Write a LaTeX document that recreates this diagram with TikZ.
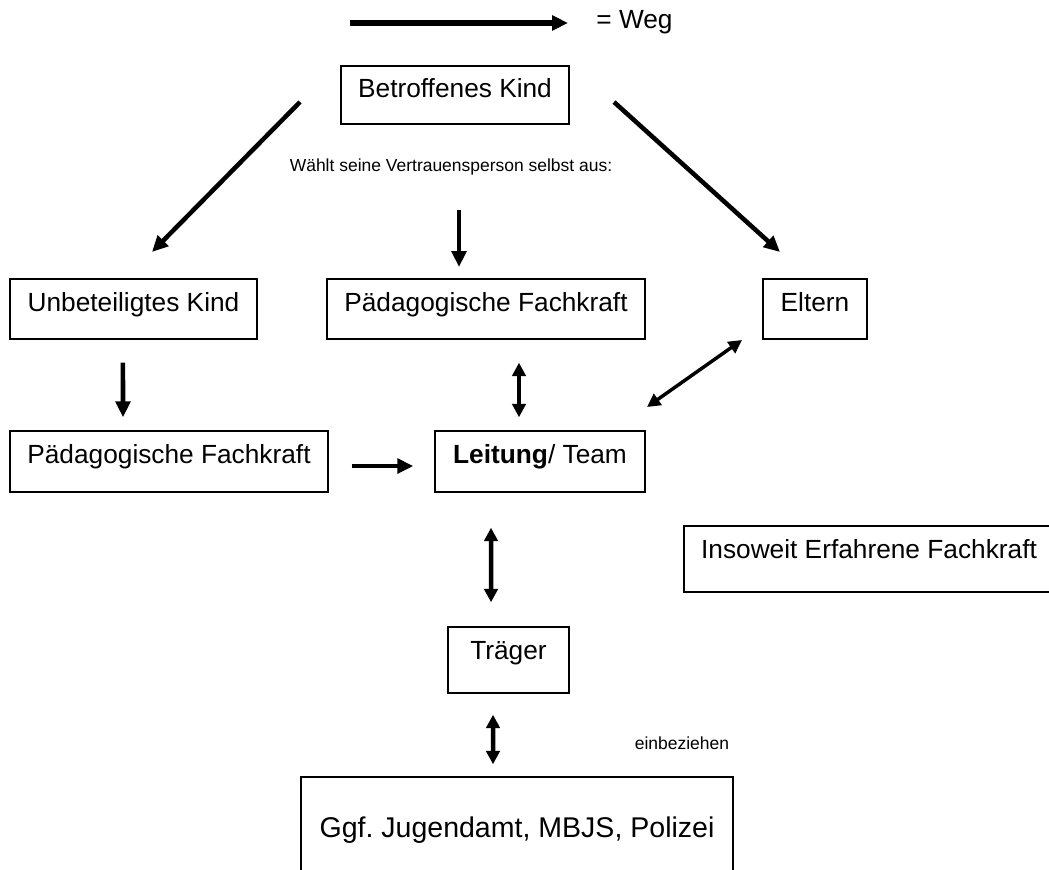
\documentclass[tikz,border=0pt]{standalone}
\usepackage{fontspec}
\setmainfont{Liberation Sans}
\usetikzlibrary{arrows.meta}
\tikzset{
  box/.style={draw=black, line width=1.1pt, inner ysep=0pt, text height=24pt,
    font=\fontsize{19.7}{23}\selectfont, anchor=center},
  bigtext/.style={font=\fontsize{19.7}{23}\selectfont, inner sep=0pt, anchor=center},
  smalltext/.style={font=\fontsize{13.1}{15}\selectfont, inner sep=0pt, anchor=center},
  tipA/.tip={Triangle[length=12pt,width=11pt]},
  tipB/.tip={Triangle[length=10pt,width=10pt]},
  arr/.style={line width=3.4pt, -tipA},
  darr/.style={line width=3.4pt, tipB-tipB},
}
\begin{document}
\begin{tikzpicture}[x=0.75pt,y=-0.75pt]
\useasboundingbox (0,0) rectangle (1049,870);
\clip (0,0) rectangle (1049,870);

% legend
\coordinate (lg1) at (350,23);
\coordinate (lg2) at (568,23);
\draw[line width=3.8pt, -tipA] (lg1) -- (lg2);
\node[bigtext] (weg) at (634.5,22) {= Weg};

% boxes
\node[box, minimum width=171pt, text depth=19.5pt] (kid) at (455,95) {Betroffenes Kind};
\node[smalltext] (wahl) at (451,167) {Wählt seine Vertrauensperson selbst aus:};

\node[box, minimum width=185.25pt, text depth=21pt] (unb) at (133.5,309) {Unbeteiligtes Kind};
\node[box, minimum width=238.5pt, text depth=21pt] (pfm) at (486,309) {Pädagogische Fachkraft};
\node[box, minimum width=78pt, text depth=21pt] (eltern) at (815,309) {Eltern};

\node[box, minimum width=238.5pt, text depth=21.75pt] (pfl) at (169,461.5) {Pädagogische Fachkraft};
\node[box, minimum width=157.5pt, text depth=21.75pt] (leit) at (540,461.5) {\textbf{Leitung}/ Team};

\node[box, minimum width=277.5pt, text depth=25.5pt] (iefk) at (869,559) {Insoweit Erfahrene Fachkraft};
\node[box, minimum width=90.75pt, text depth=25.5pt] (traeger) at (508.5,660) {Träger};

\node[box, minimum width=324pt, text height=45pt, text depth=36pt,
      font=\fontsize{21.4}{25}\selectfont] (ggf) at (517,831) {Ggf.\ Jugendamt, MBJS, Polizei};
\node[smalltext] (einb) at (682,743) {einbeziehen};

% arrows from the child
\coordinate (dl1) at (300,102);
\coordinate (dl2) at (152,252);
\coordinate (dr1) at (614,102);
\coordinate (dr2) at (780,252);
\coordinate (dv1) at (459,210);
\coordinate (dv2) at (459,267);
\draw[arr] (dl1) -- (dl2);
\draw[arr] (dr1) -- (dr2);
\draw[arr] (dv1) -- (dv2);

% between boxes
\draw[arr, shorten <=17.25pt, shorten >=9.75pt] ([xshift=-7.9pt]unb.south) -- ([xshift=-34.5pt]pfl.north);
\draw[darr, shorten <=17.25pt, shorten >=9.75pt] ([xshift=24.75pt]pfm.south) -- ([xshift=-15.75pt]leit.north);
\draw[arr, shorten <=17.25pt, shorten >=15.75pt] ([yshift=-3.4pt]pfl.east) -- ([yshift=-3.4pt]leit.west);
\coordinate (el1) at (647,407);
\coordinate (el2) at (742,340);
\draw[line width=2.6pt, tipB-tipB] (el1) -- (el2);
\draw[darr, shorten <=26.25pt, shorten >=18pt] ([xshift=-36.75pt]leit.south) -- ([xshift=-13.1pt]traeger.north);
\draw[darr, shorten <=15.75pt, shorten >=9pt] ([xshift=-11.6pt]traeger.south) -- ([xshift=-18pt]ggf.north);
\end{tikzpicture}
\end{document}
